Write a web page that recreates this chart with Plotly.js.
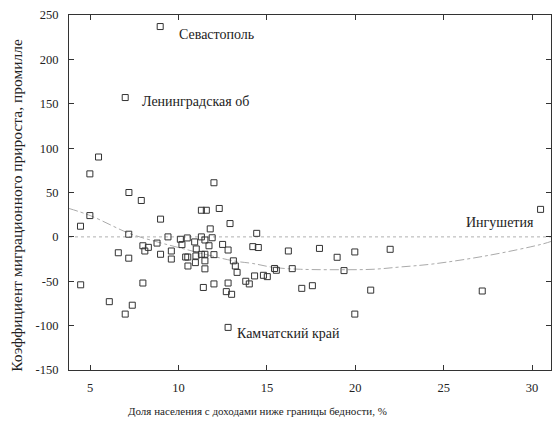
<!DOCTYPE html>
<html>
<head>
<meta charset="utf-8">
<script src="https://cdn.plot.ly/plotly-3.0.1.min.js"></script>
<style>html,body{margin:0;padding:0;background:#fff;}#chart{width:557px;height:422px;}</style>
</head>
<body>
<div id="chart"></div>
<script>
// Poverty share (%) and migration rate (per mille)
const povertyX = [
  8.96, 6.98, 5.47, 4.98, 7.19, 7.89, 4.98, 4.45, 12.0, 11.29,
  11.57, 12.30, 8.98, 12.91, 11.79, 14.42, 7.18, 9.40, 10.10, 10.49,
  11.29, 11.90, 10.91, 11.49, 8.78, 10.19, 11.72, 12.49, 7.98, 8.29,
  8.09, 9.59, 11.0, 12.80, 14.20, 14.51, 16.21, 6.59, 8.98, 11.49,
  12.0, 11.29, 7.18, 9.59, 10.40, 10.52, 10.98, 11.49, 13.1, 10.53,
  10.95, 11.49, 13.21, 13.31, 14.30, 14.80, 15.02, 15.43, 15.53, 16.43,
  4.46, 7.98, 11.40, 12.0, 12.80, 13.80, 14.0, 12.70, 13.0, 16.97,
  6.08, 7.38, 6.98, 12.80, 17.57, 30.48, 17.97, 18.97, 19.97, 21.97,
  19.36, 20.87, 27.18, 19.97
];
const migrationY = [
  237, 157, 90, 71, 50, 41, 24, 12, 61, 30,
  30, 32, 20, 15, 9, 4, 3, 0, -2.7, -1.2,
  0, -1, -5.7, -3.5, -7, -8.7, -10, -8.5, -10, -11.8,
  -15.9, -15.9, -13.6, -14.8, -11, -12, -15.9, -17.9, -19.6, -19.6,
  -20, -19.7, -24, -25, -22.7, -22.7, -21.5, -27, -27, -32.8,
  -29, -36, -32.8, -40, -44, -43.3, -44.8, -35.6, -37.6, -35.8,
  -54, -52, -57, -53, -52, -50, -53, -61.7, -64.7, -58,
  -73, -77, -87, -102, -55, 31, -13, -23, -17, -14,
  -38, -60, -61, -87
];
// Trend curve, points
const trendX = [3.8, 5, 7.2, 8.4, 10, 13.1, 14.2, 15.4, 16.9, 19.3, 21, 22.5, 24.4, 27.5, 30.5, 31.1];
const trendY = [32, 24, 4, -3.5, -12, -27, -30, -34.5, -36.5, -37, -36.5, -34, -30.5, -21, -8.5, -5];
// Labelled regions
const labelText = ["Севастополь", "Ленинградская об", "Камчатский край", "Ингушетия"];
const labelX = [9.9, 7.83, 13.21, 30.2];
const labelY = [227.5, 153, -108.6, 16];
const labelAnchor = ["left", "left", "left", "right"];

const xTicks = [5, 10, 15, 20, 25, 30];
const yTicks = [-150, -100, -50, 0, 50, 100, 150, 200, 250];

const font = "Times New Roman, Liberation Serif, DejaVu Serif, serif";

const traces = [
  {
    x: trendX, y: trendY, type: "scatter", mode: "lines",
    line: {color: "#aaaaaa", width: 1, dash: "dashdot", shape: "spline"},
    hoverinfo: "skip"
  },
  {
    x: povertyX, y: migrationY, type: "scatter", mode: "markers",
    marker: {symbol: "square-open", size: 6, color: "#333333", line: {width: 1, color: "#333333"}}
  }
];

const annotations = labelText.map((t, i) => ({
  x: labelX[i], y: labelY[i], xref: "x", yref: "y", text: t, showarrow: false,
  xanchor: labelAnchor[i], yanchor: "middle", font: {family: font, size: 14, color: "#222"}
}));
annotations.push({
  xref: "paper", yref: "paper", x: 0.392, y: -0.1155, xanchor: "center", yanchor: "middle",
  text: "Доля населения с доходами ниже границы бедности, %", showarrow: false,
  font: {family: font, size: 11, color: "#222"}
});
annotations.push({
  xref: "paper", yref: "paper", x: -0.108, y: 0.465, xanchor: "center", yanchor: "middle",
  textangle: -90, text: "Коэффициент миграционного прироста, промилле", showarrow: false,
  font: {family: font, size: 15.5, color: "#222"}
});

const layout = {
  width: 557, height: 422,
  margin: {l: 69, r: 6, t: 15, b: 52},
  paper_bgcolor: "#fff", plot_bgcolor: "#fff",
  showlegend: false,
  font: {family: font, size: 12.5, color: "#222"},
  xaxis: {
    range: [3.8, 31.07], tickvals: xTicks, ticktext: xTicks.map(String),
    ticks: "inside", ticklen: 5, tickcolor: "#333", mirror: "ticks",
    showline: true, linecolor: "#333", linewidth: 1, showgrid: false, zeroline: false,
    ticklabelstandoff: 6, tickfont: {family: font, size: 12.5, color: "#222"}
  },
  yaxis: {
    range: [-150, 250], tickvals: yTicks, ticktext: yTicks.map(String),
    ticks: "inside", ticklen: 5, tickcolor: "#333", mirror: "ticks",
    showline: true, linecolor: "#333", linewidth: 1, showgrid: false, zeroline: false,
    ticklabelstandoff: 7, tickfont: {family: font, size: 12.5, color: "#222"}
  },
  shapes: [{
    type: "line", xref: "paper", yref: "y", x0: 0, x1: 1, y0: 0, y1: 0,
    line: {color: "#b0b0b0", width: 1, dash: "dot"}, layer: "below"
  }],
  annotations: annotations
};

Plotly.newPlot("chart", traces, layout, {displayModeBar: false, staticPlot: true});
</script>
</body>
</html>
